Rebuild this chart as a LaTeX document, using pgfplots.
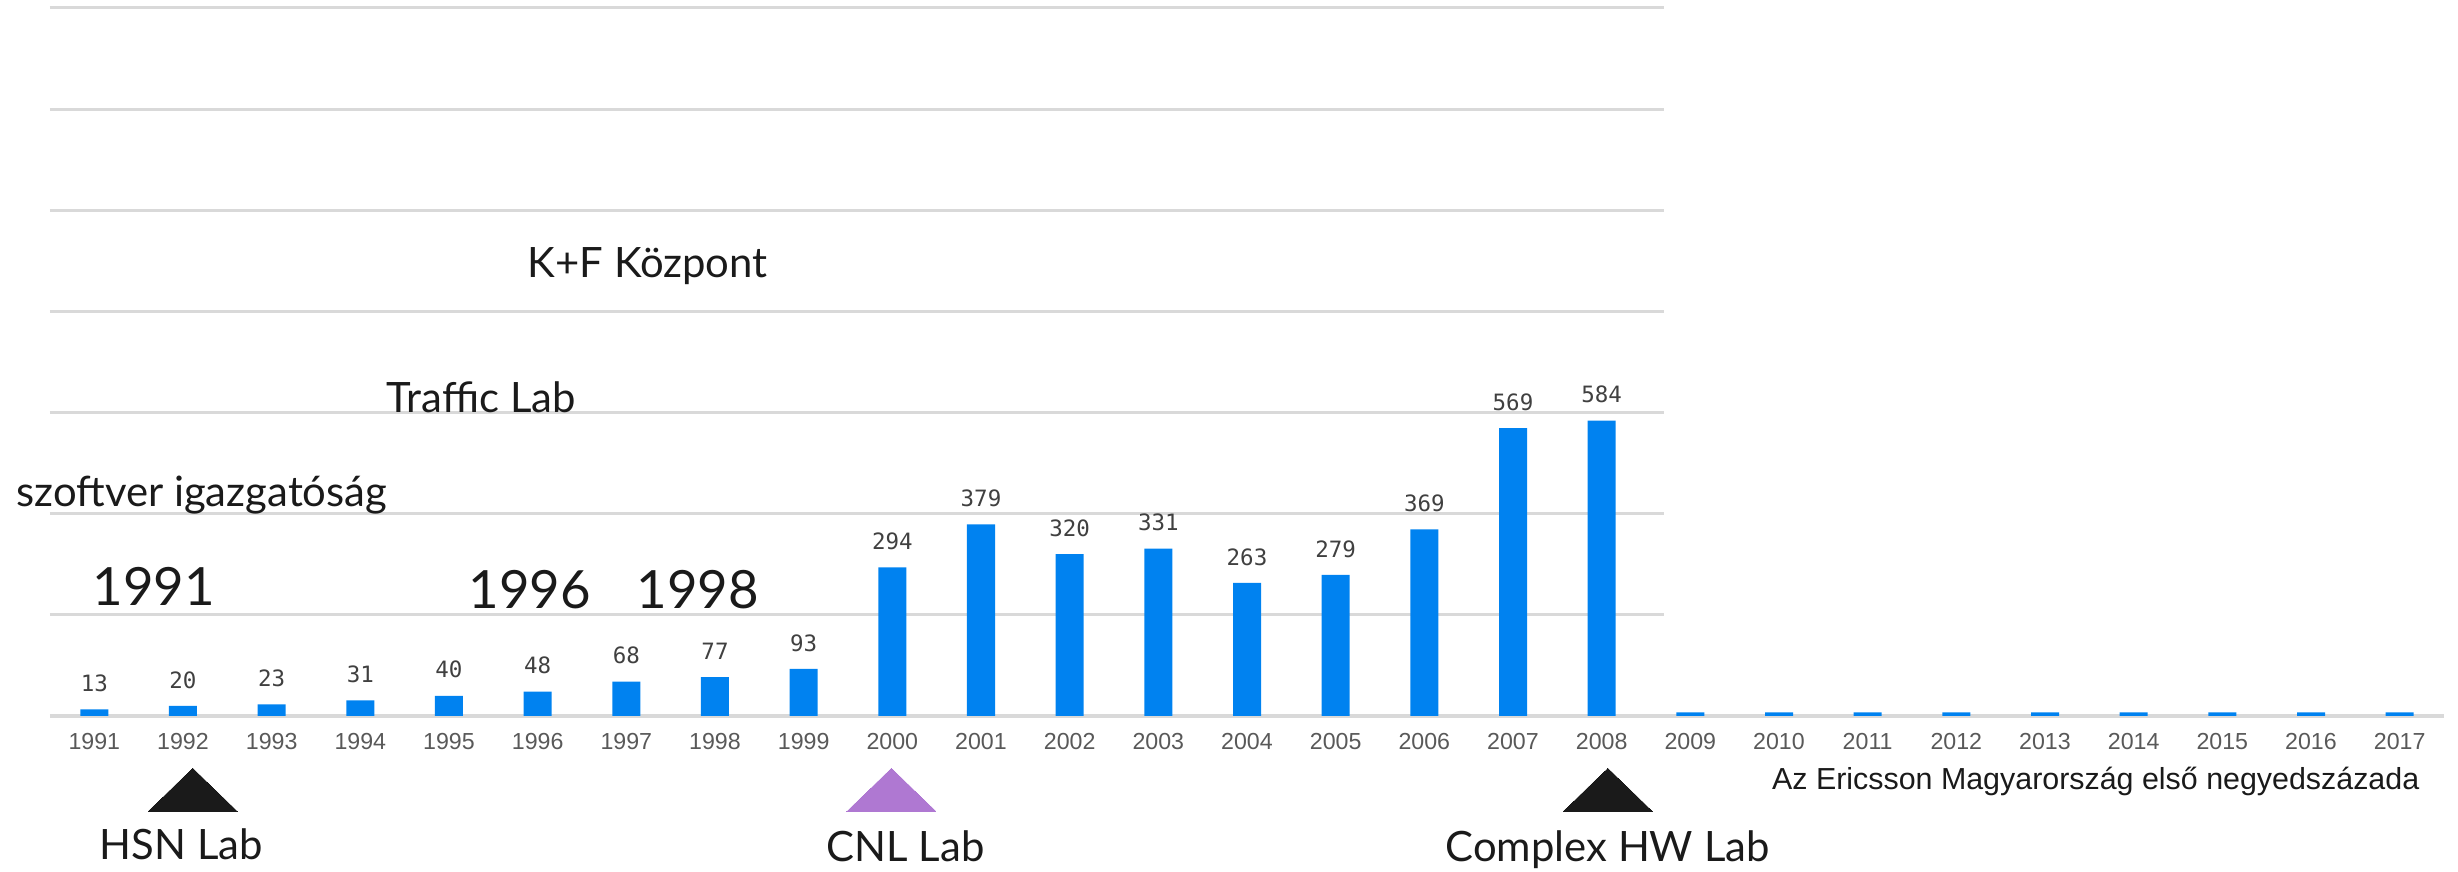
\documentclass[border=0pt]{standalone}
\usepackage{fontspec}
\usepackage{pgfplots}
\pgfplotsset{compat=1.18}
\setmainfont{Liberation Sans}
\newfontfamily\hilda{Lato}
\newfontfamily\mono{DejaVu Sans Mono}
\definecolor{barblue}{HTML}{0082F0}
\definecolor{gridgray}{HTML}{D9D9D9}
\definecolor{ticktext}{HTML}{595959}
\definecolor{labeltext}{HTML}{404040}
\definecolor{annot}{HTML}{1A1A1A}
\definecolor{lilac}{HTML}{AF78D2}
\begin{document}
\begin{tikzpicture}
\useasboundingbox (-5mm,-15.6mm) rectangle (240.8mm,71.6mm);
\begin{axis}[
  at={(0,0)}, anchor=south west,
  scale only axis, width=239.4mm, height=70.8mm,
  xmin=-0.5, xmax=26.5, ymin=0, ymax=1400,
  clip=false,
  axis y line=none,
  axis x line*=bottom,
  x axis line style={-, draw=gridgray, line width=1pt},
  major tick length=0pt,
  ytick=\empty,
  xtick={0,...,26},
  xticklabels={1991,1992,1993,1994,1995,1996,1997,1998,1999,2000,2001,2002,2003,2004,2005,2006,2007,2008,2009,2010,2011,2012,2013,2014,2015,2016,2017},
  xticklabel style={font=\fontsize{6.6pt}{7pt}\selectfont, text=ticktext, anchor=center, yshift=-2.6mm},
  /pgf/number format/assume math mode=true,
]
\foreach \g in {200,400,600,800,1000,1200,1400}{
  \edef\tmp{\noexpand\addplot[draw=gridgray, line width=0.85pt, forget plot] coordinates {(-0.5,\g) (17.7,\g)};}
  \tmp
}
\addplot[ybar, bar width=2.8mm, bar shift=0pt, fill=barblue, draw=none,
  nodes near coords,
  nodes near coords style={font=\mono\fontsize{6.4pt}{7pt}\selectfont, text=labeltext, anchor=center, yshift=2.6mm}]
  coordinates {(0,13) (1,20) (2,23) (3,31) (4,40) (5,48) (6,68) (7,77) (8,93) (9,294) (10,379) (11,320) (12,331) (13,263) (14,279) (15,369) (16,569) (17,584)};
\addplot[ybar, bar width=2.8mm, bar shift=0pt, fill=barblue, draw=none]
  coordinates {(18,7) (19,7) (20,7) (21,7) (22,7) (23,7) (24,7) (25,7) (26,7)};
\addplot[color=annot, only marks, mark=triangle*, mark size=8.16pt, mark options={xscale=1.79, fill=annot, draw=annot, line width=0pt}]
  coordinates {(1.11,-160) (17.07,-160)};
\addplot[color=lilac, only marks, mark=triangle*, mark size=8.16pt, mark options={xscale=1.79, fill=lilac, draw=lilac, line width=0pt}]
  coordinates {(8.99,-160)};
\end{axis}
\begin{scope}[every node/.style={inner sep=0pt, text=annot}]
\node[anchor=base west, font=\hilda\fontsize{11.9pt}{13pt}\selectfont] at (47.7mm,43.8mm) {K+F Központ};
\node[anchor=base west, font=\hilda\fontsize{11.9pt}{13pt}\selectfont] at (33.6mm,30.3mm) {Traffic Lab};
\node[anchor=base west, font=\hilda\fontsize{11.9pt}{13pt}\selectfont] at (-3.4mm,20.9mm) {szoftver igazgatóság};
\node[anchor=base west, font=\hilda\fontsize{15pt}{17pt}\selectfont] at (4.2mm,11.0mm) {1991};
\node[anchor=base west, font=\hilda\fontsize{15pt}{17pt}\selectfont] at (41.8mm,10.7mm) {1996};
\node[anchor=base west, font=\hilda\fontsize{15pt}{17pt}\selectfont] at (58.6mm,10.7mm) {1998};
\node[anchor=base west, font=\hilda\fontsize{11.9pt}{13pt}\selectfont] at (4.9mm,-14.4mm) {HSN Lab};
\node[anchor=base west, font=\hilda\fontsize{11.9pt}{13pt}\selectfont] at (77.6mm,-14.6mm) {CNL Lab};
\node[anchor=base west, font=\hilda\fontsize{11.9pt}{13pt}\selectfont] at (139.5mm,-14.6mm) {Complex HW Lab};
\node[anchor=base east, font=\fontsize{8.65pt}{9pt}\selectfont] at (237mm,-7.4mm) {Az Ericsson Magyarország első negyedszázada};
\end{scope}
\end{tikzpicture}
\end{document}
